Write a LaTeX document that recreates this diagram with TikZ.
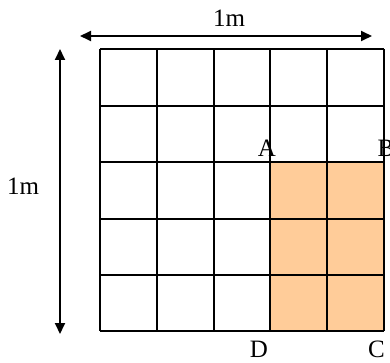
\documentclass[tikz,border=0pt]{standalone}
\usepackage{fontspec}
\setmainfont{Liberation Serif}
\usetikzlibrary{arrows.meta}
\definecolor{peach}{RGB}{255,204,153}
\begin{document}
\begin{tikzpicture}[x=1pt,y=-1pt,
  gridline/.style={line width=2.4pt},
  dimarrow/.style={line width=1.8pt,{Triangle[length=11pt,width=10pt]}-{Triangle[length=11pt,width=10pt]}},
  lbl/.style={anchor=base,inner sep=0pt,font=\fontsize{25}{28}\selectfont}]
\useasboundingbox (0,0) rectangle (390,363);
% shaded region
\coordinate (A) at (270,162);
\coordinate (B) at (384,162);
\coordinate (C) at (384,331);
\coordinate (D) at (270,331);
\fill[peach] (A) rectangle (C);
% grid
\foreach \x in {100,157,214,270,327,384}
  \draw[gridline] (\x,49) -- (\x,331);
\foreach \y in {49,106,162,219,275,331}
  \draw[gridline] (100,\y) -- (384,\y);
% dimension arrows
\coordinate (hL) at (80,36);
\coordinate (hR) at (372,36);
\draw[dimarrow] (hL) -- (hR);
\coordinate (vT) at (60,49);
\coordinate (vB) at (60,334);
\draw[dimarrow] (vT) -- (vB);
% labels
\node[lbl] (top) at (229,26.5) {1m};
\node[lbl] (left) at (23,194) {1m};
\node[lbl] (la) at (267,156.5) {A};
\node[lbl] (lb) at (386,156.5) {B};
\node[lbl] (ld) at (259,357.5) {D};
\node[lbl] (lc) at (376.5,357.5) {C};
\end{tikzpicture}
\end{document}
